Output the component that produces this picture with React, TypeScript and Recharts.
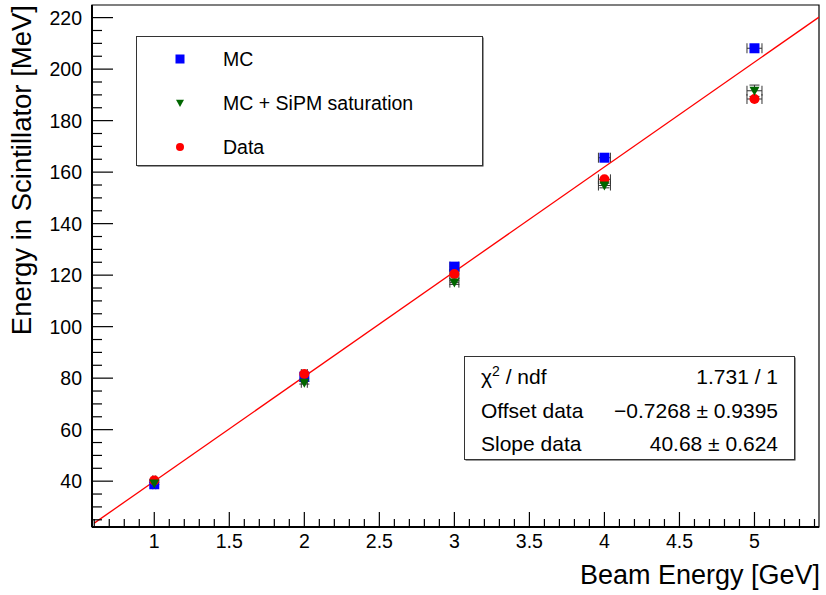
import React from 'react';
import { ScatterChart, Scatter, XAxis, YAxis, ErrorBar, ReferenceArea } from 'recharts';

// beam energies [GeV] and measured / simulated energy in the scintillator [MeV]
const beamEnergy = [1, 2, 3, 4, 5];
const beamSpread = [0.01, 0.02, 0.03, 0.04, 0.05];
const mcEnergy = [38.8, 80.6, 123.3, 165.6, 208.1];
const mcSipmEnergy = [39.1, 78.2, 117.1, 154.8, 191.6];
const mcSipmError = [0.4, 0.5, 0.7, 0.9, 2.2];
const dataEnergy = [40.3, 81.6, 120.4, 157.2, 188.4];

// fit line end points
const fitX = [0.6, 5.43];
const fitY = [23.7, 220.2];

const seriesNames = ['MC', 'MC + SiPM saturation', 'Data'];
const seriesColors = ['#0000ff', '#006600', '#ff0000'];

const xMajorTicks = [1, 1.5, 2, 2.5, 3, 3.5, 4, 4.5, 5];
const yMajorTicks = [40, 60, 80, 100, 120, 140, 160, 180, 200, 220];
const statsRows = [
  ['ndf', '1.731 / 1'],
  ['Offset data', '\u22120.7268 \u00b1 0.9395'],
  ['Slope data', '40.68 \u00b1 0.624'],
];

const xDomain = [0.585, 5.43];
const yDomain = [22.2, 224.9];
const xTicks = Array.from({ length: 49 }, (_, i) => Math.round(6 + i) / 10);
const yTicks = Array.from({ length: 40 }, (_, i) => 25 + 5 * i);

const FONT = '"Liberation Sans", Arial, Helvetica, sans-serif';

const mcPoints = beamEnergy.map((x, i) => ({ x, y: mcEnergy[i], ex: beamSpread[i] }));
const sipmPoints = beamEnergy.map((x, i) => ({ x, y: mcSipmEnergy[i], ex: beamSpread[i], ey: mcSipmError[i] }));
const dataPoints = beamEnergy.map((x, i) => ({ x, y: dataEnergy[i], ex: beamSpread[i] }));
const fitPoints = fitX.map((x, i) => ({ x, y: fitY[i] }));

const XTick = ({ x, y, payload }: any) => {
  const v = payload.value;
  const major = xMajorTicks.includes(v);
  return (
    <g>
      <line x1={x} x2={x} y1={y} y2={y - (major ? 15 : 8)} stroke="#000" strokeWidth={1.2} />
      {major && (
        <text x={x} y={y + 21} textAnchor="middle" fontSize={19.5} fontFamily={FONT} fill="#000">
          {v}
        </text>
      )}
    </g>
  );
};

const YTick = ({ x, y, payload }: any) => {
  const v = payload.value;
  const major = yMajorTicks.includes(v);
  return (
    <g>
      <line x1={x} x2={x + (major ? 21 : 10)} y1={y} y2={y} stroke="#000" strokeWidth={1.2} />
      {major && (
        <text x={x - 10} y={y + 7} textAnchor="end" fontSize={19.5} fontFamily={FONT} fill="#000">
          {v}
        </text>
      )}
    </g>
  );
};

const Square = ({ cx, cy, markerSize = 10 }: any) => (
  <rect x={cx - markerSize / 2} y={cy - markerSize / 2} width={markerSize} height={markerSize} fill={seriesColors[0]} />
);
const TriangleDown = ({ cx, cy, markerSize = 10 }: any) => (
  <polygon
    points={`${cx - markerSize / 2},${cy - markerSize * 0.4} ${cx + markerSize / 2},${cy - markerSize * 0.4} ${cx},${cy + markerSize / 2}`}
    fill={seriesColors[1]}
  />
);
const Dot = ({ cx, cy, markerSize = 10 }: any) => <circle cx={cx} cy={cy} r={markerSize / 2} fill={seriesColors[2]} />;

const markers = [Square, TriangleDown, Dot];

export default function App() {
  return (
    <div style={{ position: 'absolute', left: 0, top: 0, width: 826, height: 595, background: '#fff', fontFamily: FONT }}>
      <ScatterChart width={826} height={595} margin={{ top: 5, right: 7, left: 0, bottom: 0 }}>
        <XAxis
          type="number"
          dataKey="x"
          domain={xDomain}
          ticks={xTicks}
          interval={0}
          allowDataOverflow
          height={68}
          tickSize={0}
          tickMargin={0}
          tickLine={false}
          tick={<XTick />}
          axisLine={{ stroke: '#000', strokeWidth: 2 }}
          label={() => (
            <text x={820} y={584} textAnchor="end" fontSize={27} fontFamily={FONT} fill="#000">
              Beam Energy [GeV]
            </text>
          )}
        />
        <YAxis
          type="number"
          dataKey="y"
          domain={yDomain}
          ticks={yTicks}
          interval={0}
          allowDataOverflow
          width={92}
          tickSize={0}
          tickMargin={0}
          tickLine={false}
          tick={<YTick />}
          axisLine={{ stroke: '#000', strokeWidth: 2 }}
          label={() => (
            <text x={31} y={5} transform="rotate(-90 31 5)" textAnchor="end" fontSize={27.5} fontFamily={FONT} fill="#000">
              Energy in Scintillator [MeV]
            </text>
          )}
        />
        <ReferenceArea
          x1={xDomain[0]}
          x2={xDomain[1]}
          y1={yDomain[0]}
          y2={yDomain[1]}
          fill="#fff"
          fillOpacity={0}
          stroke="#000"
          strokeWidth={1.2}
          ifOverflow="visible"
        />
        <Scatter
          data={fitPoints}
          line={{ stroke: '#ff0000', strokeWidth: 1.3 }}
          shape={() => <g />}
          isAnimationActive={false}
        />
        <Scatter data={mcPoints} shape={<Square />} isAnimationActive={false}>
          <ErrorBar dataKey="ex" direction="x" width={5} stroke="#333" strokeWidth={1} />
        </Scatter>
        <Scatter data={dataPoints} shape={<Dot />} isAnimationActive={false}>
          <ErrorBar dataKey="ex" direction="x" width={5} stroke="#333" strokeWidth={1} />
        </Scatter>
        <Scatter data={sipmPoints} shape={<TriangleDown />} isAnimationActive={false}>
          <ErrorBar dataKey="ex" direction="x" width={5} stroke="#333" strokeWidth={1} />
          <ErrorBar dataKey="ey" direction="y" width={5} stroke="#333" strokeWidth={1} />
        </Scatter>
      </ScatterChart>

      <svg width={826} height={595} style={{ position: 'absolute', left: 0, top: 0, pointerEvents: 'none' }}>
        {/* legend */}
        <rect x={137.5} y={37.5} width={346} height={129} fill="#333" />
        <rect x={136.5} y={36.5} width={346} height={129} fill="#fff" stroke="#333" strokeWidth={1} />
        {seriesNames.map((name, i) => {
          const Marker = markers[i];
          const cy = 59 + i * 44;
          return (
            <g key={name}>
              <Marker cx={180} cy={cy} markerSize={i === 0 ? 9 : 8} />
              <text x={223} y={cy + 7} fontSize={19.5} fontFamily={FONT} fill="#000">
                {name}
              </text>
            </g>
          );
        })}

        {/* fit statistics */}
        <rect x={465.5} y={357.5} width={330} height={103} fill="#333" />
        <rect x={464.5} y={356.5} width={330} height={103} fill="#fff" stroke="#333" strokeWidth={1} />
        {statsRows.map(([label, value], i) => (
          <g key={label}>
            <text x={481} y={384 + i * 33.5} fontSize={21} fontFamily={FONT} fill="#000">
              {i === 0 ? (
                <>
                  <tspan>{'\u03c7'}</tspan>
                  <tspan dy={-8} fontSize={14}>2</tspan>
                  <tspan dy={8}>{' / ' + label}</tspan>
                </>
              ) : (
                label
              )}
            </text>
            <text x={778} y={384 + i * 33.5} textAnchor="end" fontSize={21} fontFamily={FONT} fill="#000">
              {value}
            </text>
          </g>
        ))}
      </svg>
    </div>
  );
}
